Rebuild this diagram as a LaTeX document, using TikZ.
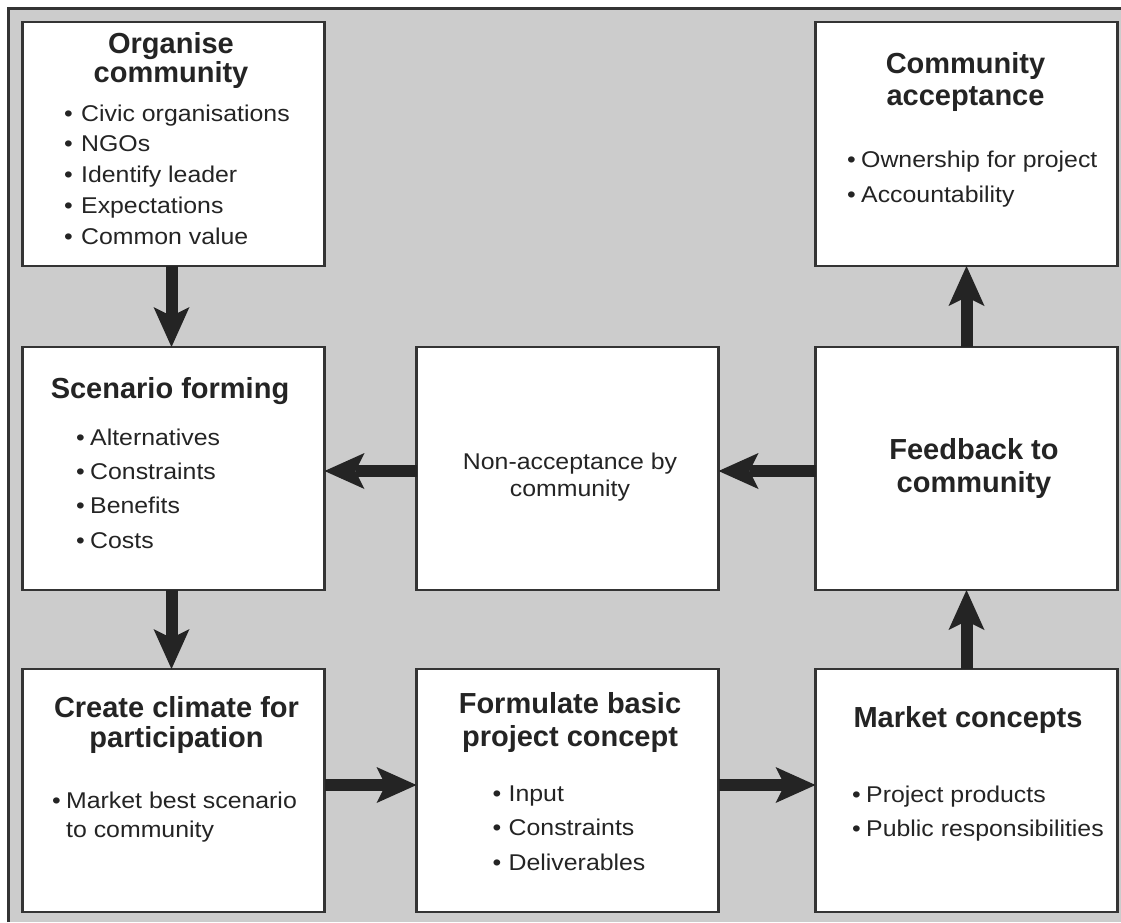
\documentclass[tikz,border=0pt]{standalone}
\usepackage{fontspec}
\setmainfont{Liberation Sans}
\newfontfamily\itemfont[FakeStretch=1.09]{Liberation Sans}
\usetikzlibrary{arrows.meta}

\definecolor{panel}{RGB}{204,204,204}
\definecolor{ink}{RGB}{36,36,36}
\definecolor{edge}{RGB}{52,52,52}

% bullet with a fixed-width hanging label
\newcommand{\bul}[2][14pt]{\makebox[#1][l]{•}#2}

\begin{document}
\begin{tikzpicture}[x=1pt,y=-1pt,
  stage/.style={draw=edge, line width=2.2pt, fill=white, inner sep=0pt, outer sep=0pt,
                minimum width=302pt, minimum height=243pt},
  ttl/.style={font={\fontsize{29}{33}\selectfont\bfseries}, text=ink, anchor=base, inner sep=0pt},
  txt/.style={font={\itemfont\fontsize{22.8}{30}\selectfont}, text=ink, anchor=base, inner sep=0pt},
  itm/.style={font={\itemfont\fontsize{22.8}{30}\selectfont}, text=ink, anchor=base west, inner sep=0pt},
  flow/.style={draw=ink, line width=12pt,
               -{Stealth[length=40pt, width=36pt, inset=9pt, line width=0pt]}}]

\useasboundingbox (0,0) rectangle (1121,922);
\fill[white] (0,0) rectangle (1121,922);
\fill[panel] (8.5,8.5) rectangle (1121,922);
\draw[edge, line width=3pt] (8.5,922) -- (8.5,8.5) -- (1121,8.5);

% stages
\node[stage, minimum height=244pt] (org)  at (173.5,144)   {};
\node[stage, minimum height=244pt] (acc)  at (966.5,144)   {};
\node[stage] (scen) at (173.5,468.5) {};
\node[stage] (non)  at (567.5,468.5) {};
\node[stage] (feed) at (966.5,468.5) {};
\node[stage] (clim) at (173.5,790.5) {};
\node[stage] (form) at (567.5,790.5) {};
\node[stage] (mkt)  at (966.5,790.5) {};

% Organise community
\node[ttl] (org-a) at (171,53) {Organise};
\node[ttl] (org-b) at (171,82) {community};
\node[itm] (org-1) at (64,121)   {\bul[17pt]{Civic organisations}};
\node[itm] (org-2) at (64,151.5) {\bul[17pt]{NGOs}};
\node[itm] (org-3) at (64,182.5) {\bul[17pt]{Identify leader}};
\node[itm] (org-4) at (64,213)   {\bul[17pt]{Expectations}};
\node[itm] (org-5) at (64,244)   {\bul[17pt]{Common value}};

% Community acceptance
\node[ttl] (acc-a) at (965.5,73)  {Community};
\node[ttl] (acc-b) at (965.5,105) {acceptance};
\node[itm] (acc-1) at (847,167) {\bul{Ownership for project}};
\node[itm] (acc-2) at (847,202) {\bul{Accountability}};

% Scenario forming
\node[ttl] (scen-a) at (170,398) {Scenario forming};
\node[itm] (scen-1) at (76,445) {\bul{Alternatives}};
\node[itm] (scen-2) at (76,479) {\bul{Constraints}};
\node[itm] (scen-3) at (76,513) {\bul{Benefits}};
\node[itm] (scen-4) at (76,548) {\bul{Costs}};

% Non-acceptance by community
\node[txt] (non-a) at (570,469) {Non-acceptance by};
\node[txt] (non-b) at (570,496) {community};

% Feedback to community
\node[ttl] (feed-a) at (974,459)   {Feedback to};
\node[ttl] (feed-b) at (974,492.5) {community};

% Create climate for participation
\node[ttl] (clim-a) at (176.5,717) {Create climate for};
\node[ttl] (clim-b) at (176.5,747) {participation};
\node[itm] (clim-1) at (52,808) {\bul{Market best scenario}};
\node[itm] (clim-2) at (66,837) {to community};

% Formulate basic project concept
\node[ttl] (form-a) at (570,713.5) {Formulate basic};
\node[ttl] (form-b) at (570,746) {project concept};
\node[itm] (form-1) at (492.5,801)   {\bul[16pt]{Input}};
\node[itm] (form-2) at (492.5,835.5) {\bul[16pt]{Constraints}};
\node[itm] (form-3) at (492.5,870.5) {\bul[16pt]{Deliverables}};

% Market concepts
\node[ttl] (mkt-a) at (968,727) {Market concepts};
\node[itm] (mkt-1) at (852,802)   {\bul{Project products}};
\node[itm] (mkt-2) at (852,836.5) {\bul{Public responsibilities}};

% process arrows
\draw[flow] ([xshift=-2pt]org.south) -- ([xshift=-2pt]scen.north);
\draw[flow] ([xshift=-2pt]scen.south) -- ([xshift=-2pt]clim.north);
\draw[flow] ([yshift=5.5pt]clim.east) -- ([yshift=5.5pt]form.west);
\draw[flow] ([yshift=5.5pt]form.east) -- ([yshift=5.5pt]mkt.west);
\draw[flow] (mkt.north) -- (feed.south);
\draw[flow] (feed.north) -- (acc.south);
\draw[flow] ([yshift=-2.5pt]feed.west) -- ([yshift=-2.5pt]non.east);
\draw[flow] ([yshift=-2.5pt]non.west) -- ([yshift=-2.5pt]scen.east);
\end{tikzpicture}
\end{document}
